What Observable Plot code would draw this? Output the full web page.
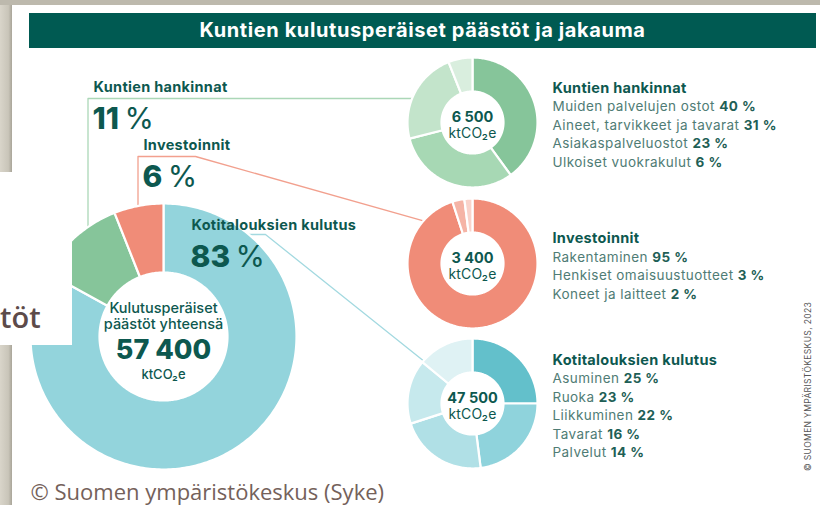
<!DOCTYPE html>
<html><head><meta charset="utf-8">
<script src="https://cdn.jsdelivr.net/npm/d3@7"></script>
<script src="https://cdn.jsdelivr.net/npm/@observablehq/plot@0.6"></script>
<style>
html,body{margin:0;padding:0;background:#fff;}
#wrap{position:relative;width:820px;height:512px;overflow:hidden;background:#fff;font-family:Inter,"Noto Sans",sans-serif;}
#stripL{position:absolute;left:0;top:0;width:12px;height:505px;background:linear-gradient(to right,#d9d5ca,#c9c5b9 70%,#a9a599);}
#stripT{position:absolute;left:0;top:0;width:820px;height:5px;background:#bdb9ad;}
#titlebar{position:absolute;left:29px;top:13px;width:787px;height:35px;background:#005a52;color:#fff;font-weight:700;font-size:20px;line-height:35px;text-align:center;letter-spacing:0.6px;}
#plot{position:absolute;left:0;top:0;}
#overlay{position:absolute;left:0;top:172px;width:72px;height:173px;background:#fff;overflow:hidden;}
#overlay span{position:absolute;left:0;top:127px;font-family:"Open Sans",sans-serif;font-weight:600;font-size:29px;color:#5d4b4a;line-height:36px;white-space:nowrap;}
</style></head><body>
<div id="wrap"><div id="stripL"></div><div id="stripT"></div><div id="titlebar"></div><div id="plot"></div><div id="overlay"><span>töt</span></div></div>
<script>
// ---------- data ----------
const title = "Kuntien kulutusperäiset päästöt ja jakauma";
const caption = "© Suomen ympäristökeskus (Syke)";
const credit = "© SUOMEN YMPÄRISTÖKESKUS, 2023";
const totalLabel = ["Kulutusperäiset", "päästöt yhteensä"];
const totalValue = 57400;
const unit = "ktCO\u2082e";

const groups = ["Kotitalouksien kulutus", "Kuntien hankinnat", "Investoinnit"];
const groupShares = [83, 11, 6];
const groupTotals = [47500, 6500, 3400];
const groupColors = ["#93d4dc", "#86c59a", "#f08c78"];
const lineColors = ["#a3d9e0", "#abd7b7", "#f2a08e"];

const kotiItems = ["Asuminen", "Ruoka", "Liikkuminen", "Tavarat", "Palvelut"];
const kotiShares = [25, 23, 22, 16, 14];
const kotiColors = ["#63c0cb", "#8fd3dc", "#b0e0e6", "#c6e9ed", "#dff2f4"];

const hankinnatItems = ["Muiden palvelujen ostot", "Aineet, tarvikkeet ja tavarat", "Asiakaspalveluostot", "Ulkoiset vuokrakulut"];
const hankinnatShares = [40, 31, 23, 6];
const hankinnatColors = ["#86c59a", "#a7d8b4", "#c3e4cb", "#d9eede"];

const investItems = ["Rakentaminen", "Henkiset omaisuustuotteet", "Koneet ja laitteet"];
const investShares = [95, 3, 2];
const investColors = ["#f08c78", "#f5b4a6", "#f9d3cb"];

const subItems = [kotiItems, hankinnatItems, investItems];
const subShares = [kotiShares, hankinnatShares, investShares];
const subColors = [kotiColors, hankinnatColors, investColors];

// ---------- layout ----------
const L = {
  big: {c: [163, 336], r0: 64, r1: 133},
  small: {x: 472, ys: [403, 122, 263], r0: 31, r1: 65},
  legendX: 552, gap: 18.5,
  leftLabels: [[191, 225], [93, 87], [143, 145]]
};
const dark = "#0d584f", soft = "#4f7c75";
const fmt = d3.formatLocale({decimal: ",", thousands: "\u00a0", grouping: [3], currency: ["", " €"]}).format(",d");

document.getElementById("titlebar").textContent = title;

function ring(values, colors, c, r0, r1, id) {
  const arcs = d3.pie().sort(null).value(d => d)(values);
  const rows = [];
  arcs.forEach((a, i) => {
    const n = Math.max(2, Math.ceil((a.endAngle - a.startAngle) / (Math.PI / 180)));
    const pts = [];
    for (let k = 0; k <= n; k++) pts.push([r1, a.startAngle + (a.endAngle - a.startAngle) * k / n]);
    for (let k = n; k >= 0; k--) pts.push([r0, a.startAngle + (a.endAngle - a.startAngle) * k / n]);
    pts.forEach(([r, t]) => rows.push({id: id + "-" + i, x: c[0] + r * Math.sin(t), y: c[1] - r * Math.cos(t), fill: colors[i]}));
  });
  return rows;
}

const donutRows = ring(groupShares, groupColors, L.big.c, L.big.r0, L.big.r1, "big");
groups.forEach((g, i) => donutRows.push(...ring(subShares[i], subColors[i], [L.small.x, L.small.ys[i]], L.small.r0, L.small.r1, "s" + i)));

// connectors
const conn = [];
{
  const [bx, by] = L.big.c, R = L.big.r1, sx = L.small.x, sr = L.small.r1;
  const onSmall = (i, deg) => { const t = deg * Math.PI / 180; return [sx + sr * Math.sin(t), L.small.ys[i] - sr * Math.cos(t)]; };
  { const [lx, ly] = L.leftLabels[0]; const y = ly + 9; const x = bx + Math.sqrt(R * R - (y - by) ** 2);
    [[x, y], [lx + 74, y], onSmall(0, -49)].forEach(p => conn.push({id: 0, x: p[0], y: p[1], c: lineColors[0]})); }
  { const [lx, ly] = L.leftLabels[1]; const vx = lx - 5.5, ty = ly + 11; const yb = by - Math.sqrt(R * R - (vx - bx) ** 2);
    const ex = sx - Math.sqrt(sr * sr - (ty - L.small.ys[1]) ** 2);
    [[vx, yb], [vx, ty], [ex, ty]].forEach(p => conn.push({id: 1, x: p[0], y: p[1], c: lineColors[1]})); }
  { const [lx, ly] = L.leftLabels[2]; const vx = lx - 5.5, ty = ly + 11; const yb = by - Math.sqrt(R * R - (vx - bx) ** 2);
    [[vx, yb], [vx, ty], [lx + 52, ty], onSmall(2, -49)].forEach(p => conn.push({id: 2, x: p[0], y: p[1], c: lineColors[2]})); }
}

// texts
const leftHeads = groups.map((g, i) => ({x: L.leftLabels[i][0], y: L.leftLabels[i][1], t: g}));
const leftPcts = groups.map((g, i) => ({x: L.leftLabels[i][0] - 1, y: L.leftLabels[i][1] + 32, a: String(groupShares[i]), b: "\u2009%"}));
const smallVals = groups.map((g, i) => ({x: L.small.x, y: L.small.ys[i] - 5, t: fmt(groupTotals[i])}));
const smallUnits = groups.map((g, i) => ({x: L.small.x, y: L.small.ys[i] + 11, t: unit}));
const legHeads = [], legItems = [];
groups.forEach((g, i) => {
  const n = subItems[i].length;
  const hy = L.small.ys[i] + 3 - n * L.gap / 2;
  legHeads.push({x: L.legendX, y: hy, t: g});
  subItems[i].forEach((name, k) => legItems.push({x: L.legendX, y: hy + (k + 1) * L.gap, a: name + " ", b: subShares[i][k] + " %"}));
});
const centerLines = [
  {y: L.big.c[1] - 28, t: totalLabel[0], s: 14.5, w: 500},
  {y: L.big.c[1] - 12, t: totalLabel[1], s: 14.5, w: 500},
  {y: L.big.c[1] + 14, t: fmt(totalValue), s: 27, w: 800},
  {y: L.big.c[1] + 38, t: unit, s: 13, w: 500}
];

const svg = Plot.plot({
  width: 820, height: 512, margin: 0,
  x: {domain: [0, 820], range: [0, 820], axis: null},
  y: {domain: [0, 512], range: [0, 512], axis: null},
  color: {type: "identity"},
  style: {fontFamily: "Inter, 'Noto Sans', sans-serif", background: "transparent", overflow: "visible"},
  marks: [
    Plot.line(conn, {x: "x", y: "y", z: "id", stroke: "c", strokeWidth: 1.3}),
    Plot.line(donutRows, {x: "x", y: "y", z: "id", fill: "fill", stroke: "white", strokeWidth: 2.2, curve: "linear-closed"}),
    Plot.text(centerLines, {x: () => L.big.c[0], y: "y", text: "t", fontSize: d => d.s, fill: dark}),
    Plot.text(leftHeads, {x: "x", y: "y", text: "t", textAnchor: "start", fontSize: 14.5, fontWeight: 700, fill: dark}),
    Plot.text(leftPcts, {x: "x", y: "y", text: d => d.a + d.b, textAnchor: "start", fontSize: 30, fill: dark}),
    Plot.text(smallVals, {x: "x", y: "y", text: "t", fontSize: 14.5, fontWeight: 700, fill: dark}),
    Plot.text(smallUnits, {x: "x", y: "y", text: "t", fontSize: 14, fill: dark}),
    Plot.text(legHeads, {x: "x", y: "y", text: "t", textAnchor: "start", fontSize: 14.5, fontWeight: 700, fill: dark}),
    Plot.text(legItems, {x: "x", y: "y", text: d => d.a + d.b, textAnchor: "start", fontSize: 13.5, fill: soft}),
    Plot.text([credit], {x: () => 808, y: () => 386, text: d => d, rotate: -90, fontSize: 8.5, fill: "#555"}),
    Plot.text([caption], {x: () => 30, y: () => 492, text: d => d, textAnchor: "start", fontSize: 22, fill: "#74615a", fontFamily: "'Open Sans', sans-serif"})
  ]
});

// mixed weights / spacing, applied by text-mark order
const tg = d3.select(svg).selectAll('g[aria-label="text"]').nodes();
d3.select(tg[0]).selectAll("text").each(function (_, i) { d3.select(this).attr("font-weight", centerLines[i].w); });
d3.select(tg[1]).selectAll("text").attr("letter-spacing", 0.3);
d3.select(tg[2]).selectAll("text").each(function (_, i) {
  const t = d3.select(this); t.text(null);
  t.append("tspan").attr("font-weight", 800).text(leftPcts[i].a);
  t.append("tspan").attr("font-weight", 400).text(leftPcts[i].b);
});
d3.select(tg[4]).selectAll("text").attr("letter-spacing", 0.2);
d3.select(tg[5]).selectAll("text").attr("letter-spacing", 0.3);
d3.select(tg[6]).selectAll("text").attr("letter-spacing", 0.45).each(function (_, i) {
  const t = d3.select(this); t.text(null);
  t.append("tspan").text(legItems[i].a);
  t.append("tspan").attr("font-weight", 700).attr("fill", "#1f5f56").text(legItems[i].b);
});
d3.select(tg[7]).selectAll("text").attr("letter-spacing", 0.35);
document.getElementById("plot").appendChild(svg);
</script>
</body></html>
